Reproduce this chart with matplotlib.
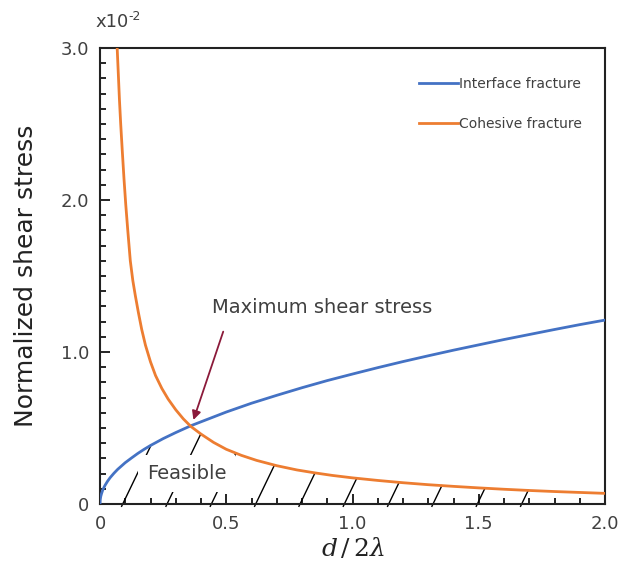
import numpy as np
import matplotlib
matplotlib.use("Agg")
import matplotlib.pyplot as plt
from matplotlib.ticker import MultipleLocator

plt.rcParams["mathtext.fontset"] = "dejavuserif"

# ---- data ----
interface_x = [0, 0.001, 0.003, 0.006, 0.01, 0.015, 0.02, 0.03, 0.04, 0.055, 0.07,
               0.085, 0.1, 0.125, 0.15, 0.175, 0.2, 0.25, 0.3, 0.36, 0.43, 0.5,
               0.6, 0.7, 0.8, 0.9, 1.0, 1.1, 1.2, 1.3, 1.4, 1.5, 1.6, 1.7, 1.8,
               1.9, 2.0]
interface_y = [0, 0.03, 0.05, 0.068, 0.088, 0.107, 0.123, 0.15, 0.173, 0.202, 0.228,
               0.25, 0.272, 0.303, 0.333, 0.36, 0.385, 0.43, 0.47, 0.515, 0.56, 0.605,
               0.663, 0.715, 0.765, 0.812, 0.855, 0.897, 0.937, 0.975, 1.012, 1.047,
               1.082, 1.115, 1.148, 1.18, 1.21]

cohesive_x = [0.068, 0.072, 0.077, 0.082, 0.088, 0.095, 0.102, 0.11, 0.12, 0.13,
              0.14, 0.152, 0.165, 0.18, 0.2, 0.22, 0.245, 0.27, 0.3, 0.33, 0.36,
              0.4, 0.45, 0.5, 0.56, 0.62, 0.7, 0.78, 0.85, 0.92, 1.0, 1.1, 1.2,
              1.3, 1.4, 1.5, 1.6, 1.7, 1.8, 1.9, 2.0]
cohesive_y = [3.0, 2.85, 2.66, 2.5, 2.33, 2.14, 1.97, 1.8, 1.6, 1.47,
              1.37, 1.26, 1.15, 1.045, 0.935, 0.845, 0.76, 0.69, 0.62, 0.56, 0.51,
              0.46, 0.405, 0.36, 0.32, 0.287, 0.252, 0.224, 0.205, 0.188, 0.172,
              0.155, 0.14, 0.127, 0.116, 0.106, 0.097, 0.089, 0.082, 0.076, 0.07]

series_labels = ["Interface fracture", "Cohesive fracture"]
x_ticks = [0, 0.5, 1.0, 1.5, 2.0]
x_tick_labels = ["0", "0.5", "1.0", "1.5", "2.0"]
y_ticks = [0, 1.0, 2.0, 3.0]
y_tick_labels = ["0", "1.0", "2.0", "3.0"]

BLUE = "#4472C4"
ORANGE = "#ED7D31"
TXT = "#404040"

fig = plt.figure(figsize=(6.36, 5.79), dpi=100)
ax = fig.add_axes([100/636, 1 - 504/579, 505/636, 456/579])

ax.plot(interface_x, interface_y, color=BLUE, lw=2.0, label=series_labels[0], zorder=4)
ax.plot(cohesive_x, cohesive_y, color=ORANGE, lw=2.0, label=series_labels[1], zorder=4)

# hatch lines in the feasible region (decorative)
gx = np.linspace(0, 2, 4001)
lower = np.minimum(np.interp(gx, interface_x, interface_y),
                   np.interp(gx, cohesive_x, cohesive_y, left=10))
slope = 0.29  # dx per dy in data units
for x0 in np.linspace(0.09, 1.67, 10):
    ys = np.linspace(-0.015, 1.0, 3000)
    xs = x0 + slope * ys
    cv = np.interp(xs, gx, lower)
    idx = np.argmax(ys >= cv)
    ax.plot(xs[:idx + 1], ys[:idx + 1], color="black", lw=1.0, zorder=2, clip_on=False)

ax.text(0.343, 0.20, "Feasible", fontsize=14, color=TXT, ha="center", va="center",
        zorder=3, bbox=dict(boxstyle="square,pad=0.45", facecolor="white", edgecolor="none"))

ax.annotate("", xy=(0.37, 0.553), xytext=(0.488, 1.134),
            arrowprops=dict(arrowstyle="-|>", color="#8B1A3A", lw=1.3,
                            mutation_scale=13, shrinkA=0, shrinkB=0), zorder=5)
ax.text(0.442, 1.29, "Maximum shear stress", fontsize=14, color=TXT,
        ha="left", va="center")

ax.set_xlim(0, 2.0)
ax.set_ylim(0, 3.0)
ax.set_xticks(x_ticks)
ax.set_xticklabels(x_tick_labels)
ax.set_yticks(y_ticks)
ax.set_yticklabels(y_tick_labels)
ax.xaxis.set_minor_locator(MultipleLocator(0.1))
ax.yaxis.set_minor_locator(MultipleLocator(0.1))
ax.tick_params(which="both", direction="in", colors="black", labelcolor=TXT,
               labelsize=13, width=1.2)
ax.tick_params(which="major", length=7, pad=8)
ax.tick_params(which="minor", length=4)
for s in ax.spines.values():
    s.set_linewidth(1.5)
    s.set_color("#222222")

ax.set_xlabel(r"$d\,/\,2\lambda$", fontsize=18, color="#222222", labelpad=2)
ax.set_ylabel("Normalized shear stress", fontsize=18, color="#222222", labelpad=16)

fig.text(95/636, 1 - 22/579, "x10", fontsize=13, color=TXT, ha="left", va="center")
fig.text(128/636, 1 - 16/579, "-2", fontsize=9, color=TXT, ha="left", va="center")

leg = ax.legend(loc="upper right", bbox_to_anchor=(0.979, 0.964), frameon=False,
                fontsize=10, handlelength=2.75, handletextpad=0.1, labelspacing=1.9,
                labelcolor=TXT)

fig.savefig("out.png", dpi=100)
